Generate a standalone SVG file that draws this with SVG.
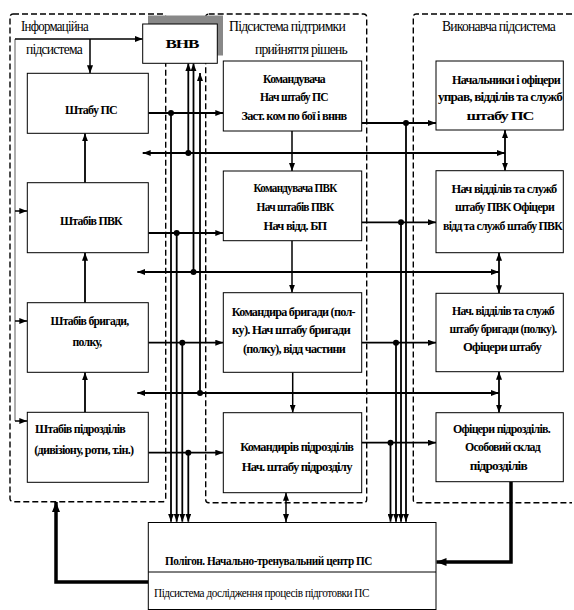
<svg xmlns="http://www.w3.org/2000/svg" width="574" height="610" viewBox="0 0 574 610">
<defs>
<style>
.bg{fill:#fff}
.box{fill:#fff;stroke:#000;stroke-width:1}
.dash{fill:none;stroke:#000;stroke-width:1.4;stroke-dasharray:6,3}
.c{fill:none;stroke:#000;stroke-width:1.8}
.cb{fill:none;stroke:#000;stroke-width:1.5}
.g{fill:none;stroke:#999;stroke-width:1.6}
.thick{fill:none;stroke:#000;stroke-width:3.5}
.a{marker-end:url(#ah)}
.aa{marker-start:url(#ah);marker-end:url(#ah)}
.at{marker-end:url(#aht)}
.dot{fill:#000}
.t{font-family:"Liberation Serif","Times New Roman",serif;font-size:13px;font-weight:bold;letter-spacing:-0.8px;fill:#000;text-anchor:middle}
.tt{font-family:"Liberation Serif","Times New Roman",serif;font-size:14px;letter-spacing:-0.8px;fill:#000}
.pb{font-family:"Liberation Serif","Times New Roman",serif;font-size:12px;font-weight:bold;letter-spacing:-0.5px;fill:#000}
.pn{font-family:"Liberation Serif","Times New Roman",serif;font-size:12px;letter-spacing:-0.5px;fill:#000}
</style>
<marker id="ah" viewBox="0 0 8 6" refX="8" refY="3" markerWidth="8" markerHeight="6" markerUnits="userSpaceOnUse" orient="auto-start-reverse"><path d="M0,0 L8,3 L0,6 z" fill="#000"/></marker>
<marker id="aht" viewBox="0 0 10 8" refX="10" refY="4" markerWidth="10" markerHeight="8" markerUnits="userSpaceOnUse" orient="auto-start-reverse"><path d="M0,0 L10,4 L0,8 z" fill="#000"/></marker>
</defs>
<rect class="bg" x="0" y="0" width="574" height="610"/>

<g id="subsystems">
<rect class="dash" x="10" y="14" width="155.7" height="487.7" rx="3"/>
<rect class="dash" x="205.7" y="14" width="161" height="488.7" rx="3"/>
<path class="dash" d="M572,14 H416.3 Q413.3,14 413.3,17 V499.7 Q413.3,502.7 416.3,502.7 H572"/>
<text class="tt" x="21" y="31" textLength="67" lengthAdjust="spacingAndGlyphs">Інформаційна</text>
<text class="tt" x="26" y="54" textLength="56" lengthAdjust="spacingAndGlyphs">підсистема</text>
<text class="tt" x="229" y="31" textLength="116" lengthAdjust="spacingAndGlyphs">Підсистема підтримки</text>
<text class="tt" x="255" y="54" textLength="92" lengthAdjust="spacingAndGlyphs">прийняття рішень</text>
<text class="tt" x="442" y="31" textLength="113" lengthAdjust="spacingAndGlyphs">Виконавча підсистема</text>
</g>

<g id="connectors">
<path class="g" d="M15,39 V421"/>
<path class="cb a" d="M15,39 H142.7"/>
<path class="cb a" d="M90,39 V73.3"/>
<path class="cb a" d="M15,211 H27.3"/>
<path class="cb a" d="M15,321 H27.3"/>
<path class="cb a" d="M15,421 H27.3"/>
<path class="c a" d="M85,182.7 V133.3"/>
<path class="c a" d="M85,302.7 V252.7"/>
<path class="c a" d="M85,412.3 V372.3"/>

<path class="c a" d="M148.3,113 H223.3"/>
<path class="c a" d="M148.3,233 H223.3"/>
<path class="c a" d="M148.3,342.7 H223.3"/>
<path class="c a" d="M148.3,452.7 H223.3"/>
<path class="c a" d="M171,113 V521.7"/>
<path class="c a" d="M176.7,233 V521.7"/>
<path class="c a" d="M182.3,342.7 V521.7"/>
<path class="c a" d="M188.3,452.7 V521.7"/>
<path class="c a" d="M188.3,153 V63.3"/>
<path class="c a" d="M193.5,272 V63.3"/>
<path class="c a" d="M200,393 V73"/>

<path class="c aa" d="M505,153 H142.7"/>
<path class="c aa" d="M499,272 H137.3"/>
<path class="c aa" d="M499,393 H137.3"/>

<path class="cb a" d="M292,131 V171"/>
<path class="cb a" d="M292,240.7 V292.7"/>
<path class="cb a" d="M292.7,372.3 V412.7"/>
<path class="cb aa" d="M286,522 V492.7"/>

<path class="c a" d="M361.7,123 H436"/>
<path class="c a" d="M361.7,222.3 H436"/>
<path class="c a" d="M361.7,342.7 H436"/>
<path class="c a" d="M361.7,442.7 H436"/>
<path class="c a" d="M406,123 V521.7"/>
<path class="c a" d="M401,222.3 V521.7"/>
<path class="c a" d="M396,342.7 V521.7"/>
<path class="c a" d="M390.5,442.7 V521.7"/>

<path class="c aa" d="M505,130 V170.7"/>
<path class="c aa" d="M499,252.7 V293.3"/>
<path class="c aa" d="M499,371.7 V412.7"/>

<path class="thick at" d="M511,481.7 V562 H436.5"/>
<path class="thick at" d="M148.3,582 H56 V502"/>

<circle class="dot" cx="171" cy="113" r="3"/>
<circle class="dot" cx="176.7" cy="233" r="3"/>
<circle class="dot" cx="182.3" cy="342.7" r="3"/>
<circle class="dot" cx="188.3" cy="452.7" r="3"/>
<circle class="dot" cx="188.3" cy="153" r="3"/>
<circle class="dot" cx="193.5" cy="272" r="3"/>
<circle class="dot" cx="200" cy="393" r="3"/>
<circle class="dot" cx="406" cy="123" r="3"/>
<circle class="dot" cx="401" cy="222.3" r="3"/>
<circle class="dot" cx="396" cy="342.7" r="3"/>
<circle class="dot" cx="390.5" cy="442.7" r="3"/>
</g>

<g id="vnv">
<rect x="148" y="15.5" width="75" height="40" fill="#888"/>
<rect class="box" x="142.7" y="24" width="74.6" height="39.3"/>
<text class="t" x="182" y="48" font-size="15" textLength="33" lengthAdjust="spacingAndGlyphs">ВНВ</text>
</g>

<g id="shtab-ps">
<rect class="box" x="27.3" y="73.3" width="121" height="60"/>
<text class="t" x="91" y="113.5" textLength="52" lengthAdjust="spacingAndGlyphs">Штабу ПС</text>
</g>
<g id="shtab-pvk">
<rect class="box" x="27.3" y="182.7" width="121" height="70"/>
<text class="t" x="91" y="224.5" textLength="62" lengthAdjust="spacingAndGlyphs">Штабів ПВК</text>
</g>
<g id="shtab-brygady">
<rect class="box" x="27.3" y="302.7" width="121" height="69.6"/>
<text class="t" x="89.5" y="325" textLength="78" lengthAdjust="spacingAndGlyphs">Штабів бригади,</text>
<text class="t" x="87" y="346" textLength="29" lengthAdjust="spacingAndGlyphs">полку,</text>
</g>
<g id="shtab-pidrozdiliv">
<rect class="box" x="27.3" y="412.3" width="121" height="70"/>
<text class="t" x="80" y="432.5" textLength="90" lengthAdjust="spacingAndGlyphs">Штабів підрозділів</text>
<text class="t" x="83.8" y="453.5" textLength="99" lengthAdjust="spacingAndGlyphs">(дивізіону, роти, т.ін.)</text>
</g>

<g id="komanduvach-ps">
<rect class="box" x="223.3" y="61" width="138.4" height="70"/>
<text class="t" x="294" y="83" textLength="62" lengthAdjust="spacingAndGlyphs">Командувача</text>
<text class="t" x="294" y="101" textLength="68" lengthAdjust="spacingAndGlyphs">Нач штабу ПС</text>
<text class="t" x="294" y="119.5" textLength="105" lengthAdjust="spacingAndGlyphs">Заст. ком по бої і вннв</text>
</g>
<g id="komanduvach-pvk">
<rect class="box" x="223.3" y="171" width="138.4" height="69.7"/>
<text class="t" x="295" y="192" textLength="83" lengthAdjust="spacingAndGlyphs">Командувача ПВК</text>
<text class="t" x="295" y="211" textLength="77" lengthAdjust="spacingAndGlyphs">Нач штабів ПВК</text>
<text class="t" x="295" y="230" textLength="63" lengthAdjust="spacingAndGlyphs">Нач відд. БП</text>
</g>
<g id="komandyr-brygady">
<rect class="box" x="223.3" y="292.7" width="138.4" height="79.6"/>
<text class="t" x="293.3" y="316" textLength="123" lengthAdjust="spacingAndGlyphs">Командира бригади   (пол-</text>
<text class="t" x="291" y="334" textLength="118" lengthAdjust="spacingAndGlyphs">ку). Нач штабу бригади</text>
<text class="t" x="294" y="353" textLength="102" lengthAdjust="spacingAndGlyphs">(полку), відд частини</text>
</g>
<g id="komandyr-pidrozdiliv">
<rect class="box" x="223.3" y="412.7" width="138.4" height="80"/>
<text class="t" x="296.7" y="451" textLength="113" lengthAdjust="spacingAndGlyphs">Командирів підрозділів</text>
<text class="t" x="296.7" y="471" textLength="110" lengthAdjust="spacingAndGlyphs">Нач. штабу підрозділу</text>
</g>

<g id="ofitsery-ps">
<rect class="box" x="436" y="61" width="127.3" height="69"/>
<text class="t" x="506" y="83.5" textLength="108" lengthAdjust="spacingAndGlyphs">Начальники і офіцери</text>
<text class="t" x="500" y="101" textLength="124" lengthAdjust="spacingAndGlyphs">управ, відділів та служб</text>
<text class="t" x="500" y="119.5" textLength="67" lengthAdjust="spacingAndGlyphs">штабу ПС</text>
</g>
<g id="ofitsery-pvk">
<rect class="box" x="436" y="170.7" width="127.3" height="82"/>
<text class="t" x="504" y="193" textLength="105" lengthAdjust="spacingAndGlyphs">Нач відділів та служб</text>
<text class="t" x="504.5" y="211" textLength="99" lengthAdjust="spacingAndGlyphs">штабу ПВК Офіцери</text>
<text class="t" x="502.5" y="230" textLength="119" lengthAdjust="spacingAndGlyphs">відд та служб штабу ПВК</text>
</g>
<g id="ofitsery-brygady">
<rect class="box" x="436" y="293.3" width="127.3" height="78.4"/>
<text class="t" x="503" y="314.5" textLength="102" lengthAdjust="spacingAndGlyphs">Нач. відділів та служб</text>
<text class="t" x="503" y="333" textLength="107" lengthAdjust="spacingAndGlyphs">штабу бригади (полку).</text>
<text class="t" x="502" y="351" textLength="78" lengthAdjust="spacingAndGlyphs">Офіцери штабу</text>
</g>
<g id="osobovyi-sklad">
<rect class="box" x="436" y="412.7" width="127.3" height="69"/>
<text class="t" x="501.5" y="433" textLength="97" lengthAdjust="spacingAndGlyphs">Офіцери підрозділів.</text>
<text class="t" x="502.5" y="451" textLength="75" lengthAdjust="spacingAndGlyphs">Особовий склад</text>
<text class="t" x="498.3" y="469.5" textLength="57" lengthAdjust="spacingAndGlyphs">підрозділів</text>
</g>

<g id="poligon">
<rect class="box" x="148.3" y="522.5" width="287.7" height="87"/>
<line x1="148.3" y1="572" x2="436" y2="572" stroke="#000" stroke-width="1"/>
<text class="pb" x="165" y="565" textLength="207" lengthAdjust="spacingAndGlyphs">Полігон. Начально-тренувальний центр ПС</text>
<text class="pn" x="154" y="597" textLength="215" lengthAdjust="spacingAndGlyphs">Підсистема дослідження процесів підготовки ПС</text>
</g>
</svg>
